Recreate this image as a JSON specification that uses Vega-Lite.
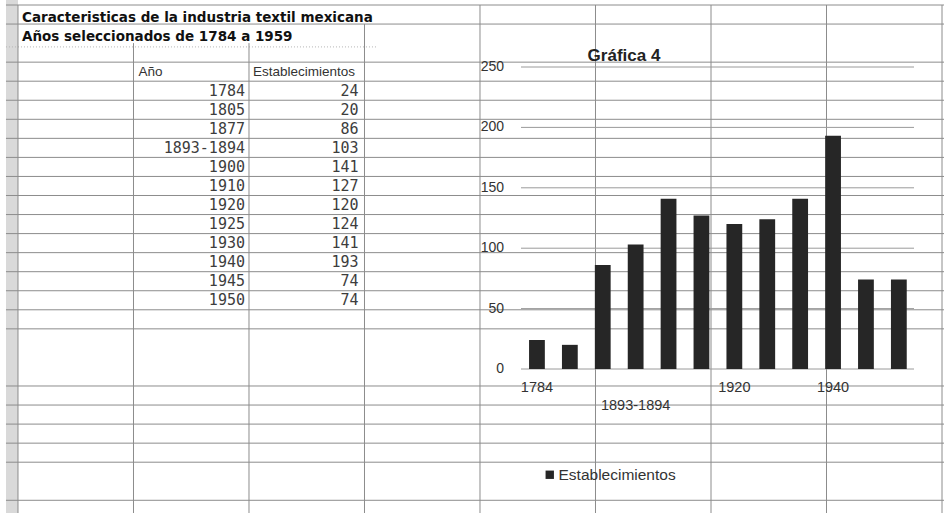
{
  "$schema": "https://vega.github.io/schema/vega-lite/v6.json",
  "width": 944,
  "height": 513,
  "autosize": "none",
  "padding": 0,
  "background": "white",
  "config": {"view": {"stroke": null}},
  "datasets": {
    "industria": [
      {"Año": "1784", "Establecimientos": 24},
      {"Año": "1805", "Establecimientos": 20},
      {"Año": "1877", "Establecimientos": 86},
      {"Año": "1893-1894", "Establecimientos": 103},
      {"Año": "1900", "Establecimientos": 141},
      {"Año": "1910", "Establecimientos": 127},
      {"Año": "1920", "Establecimientos": 120},
      {"Año": "1925", "Establecimientos": 124},
      {"Año": "1930", "Establecimientos": 141},
      {"Año": "1940", "Establecimientos": 193},
      {"Año": "1945", "Establecimientos": 74},
      {"Año": "1950", "Establecimientos": 74}
    ],
    "filas": [
      {"fila": 0}, {"fila": 1}, {"fila": 3}, {"fila": 4}, {"fila": 5}, {"fila": 6},
      {"fila": 7}, {"fila": 8}, {"fila": 9}, {"fila": 10}, {"fila": 11}, {"fila": 12},
      {"fila": 13}, {"fila": 14}, {"fila": 15}, {"fila": 16}, {"fila": 17},
      {"fila": 20}, {"fila": 21}, {"fila": 22}, {"fila": 23}, {"fila": 24}, {"fila": 26}
    ],
    "columnas": [
      {"col": 0, "desde": 0}, {"col": 1, "desde": 2}, {"col": 2, "desde": 2},
      {"col": 3, "desde": 1}, {"col": 4, "desde": 0}, {"col": 5, "desde": 0},
      {"col": 6, "desde": 0}, {"col": 7, "desde": 0}, {"col": 8, "desde": 0}
    ],
    "marcas": [{"v": 0}, {"v": 50}, {"v": 100}, {"v": 150}, {"v": 200}, {"v": 250}]
  },
  "layer": [
    {
      "layer": [
        {
          "data": {"values": [{}]},
          "mark": {"type": "rect", "color": "#d9d9d9"},
          "encoding": {
            "x": {"datum": -0.104, "type": "quantitative", "scale": {"domain": [-0.1558, 8.0173], "nice": false, "zero": false}, "axis": null},
            "x2": {"datum": 0},
            "y": {"datum": -0.2625, "type": "quantitative", "scale": {"domain": [-0.2625, 26.667], "range": [0, 513], "nice": false, "zero": false}, "axis": null},
            "y2": {"datum": 26.667}
          }
        },
        {
          "data": {"name": "filas"},
          "mark": {"type": "rule", "color": "#8c8c8c", "strokeWidth": 1},
          "encoding": {
            "x": {"datum": -0.104, "type": "quantitative", "scale": {"domain": [-0.1558, 8.0173], "nice": false, "zero": false}, "axis": null},
            "x2": {"datum": 8.0173},
            "y": {"field": "fila", "type": "quantitative", "scale": {"domain": [-0.2625, 26.667], "range": [0, 513], "nice": false, "zero": false}, "axis": null}
          }
        },
        {
          "data": {"values": [{}]},
          "mark": {"type": "rule", "color": "#b5b5b5", "strokeWidth": 1, "strokeDash": [1, 2]},
          "encoding": {
            "x": {"datum": -0.104, "type": "quantitative", "scale": {"domain": [-0.1558, 8.0173], "nice": false, "zero": false}, "axis": null},
            "x2": {"datum": 3.1},
            "y": {"datum": 2.2, "type": "quantitative", "scale": {"domain": [-0.2625, 26.667], "range": [0, 513], "nice": false, "zero": false}, "axis": null}
          }
        },
        {
          "data": {"name": "columnas"},
          "mark": {"type": "rule", "color": "#8c8c8c", "strokeWidth": 1},
          "encoding": {
            "x": {"field": "col", "type": "quantitative", "scale": {"domain": [-0.1558, 8.0173], "nice": false, "zero": false}, "axis": null},
            "y": {"field": "desde", "type": "quantitative", "scale": {"domain": [-0.2625, 26.667], "range": [0, 513], "nice": false, "zero": false}, "axis": null},
            "y2": {"datum": 26.667}
          }
        },
        {
          "data": {"values": [{}]},
          "mark": {"type": "text", "align": "left", "baseline": "middle", "dx": 4, "dy": 3, "font": "DejaVu Sans", "fontWeight": "bold", "fontSize": 13.5, "color": "#111"},
          "encoding": {
            "x": {"datum": 0, "type": "quantitative", "scale": {"domain": [-0.1558, 8.0173], "nice": false, "zero": false}, "axis": null},
            "y": {"datum": 0.5, "type": "quantitative", "scale": {"domain": [-0.2625, 26.667], "range": [0, 513], "nice": false, "zero": false}, "axis": null},
            "text": {"value": "Caracteristicas de la industria textil mexicana"}
          }
        },
        {
          "data": {"values": [{}]},
          "mark": {"type": "text", "align": "left", "baseline": "middle", "dx": 4, "dy": 3, "font": "DejaVu Sans", "fontWeight": "bold", "fontSize": 13.5, "color": "#111"},
          "encoding": {
            "x": {"datum": 0, "type": "quantitative", "scale": {"domain": [-0.1558, 8.0173], "nice": false, "zero": false}, "axis": null},
            "y": {"datum": 1.5, "type": "quantitative", "scale": {"domain": [-0.2625, 26.667], "range": [0, 513], "nice": false, "zero": false}, "axis": null},
            "text": {"value": "Años seleccionados de 1784 a 1959"}
          }
        },
        {
          "data": {"values": [{}]},
          "mark": {"type": "text", "align": "left", "baseline": "middle", "dx": 5, "font": "Liberation Sans", "fontSize": 13.5, "color": "#333"},
          "encoding": {
            "x": {"datum": 1, "type": "quantitative", "scale": {"domain": [-0.1558, 8.0173], "nice": false, "zero": false}, "axis": null},
            "y": {"datum": 3.5, "type": "quantitative", "scale": {"domain": [-0.2625, 26.667], "range": [0, 513], "nice": false, "zero": false}, "axis": null},
            "text": {"value": "Año"}
          }
        },
        {
          "data": {"values": [{}]},
          "mark": {"type": "text", "align": "left", "baseline": "middle", "dx": 4, "font": "Liberation Sans", "fontSize": 13.5, "color": "#333"},
          "encoding": {
            "x": {"datum": 2, "type": "quantitative", "scale": {"domain": [-0.1558, 8.0173], "nice": false, "zero": false}, "axis": null},
            "y": {"datum": 3.5, "type": "quantitative", "scale": {"domain": [-0.2625, 26.667], "range": [0, 513], "nice": false, "zero": false}, "axis": null},
            "text": {"value": "Establecimientos"}
          }
        }
      ]
    },
    {
      "data": {"name": "industria"},
      "layer": [
        {
          "mark": {"type": "text", "align": "right", "baseline": "middle", "dx": -4, "font": "DejaVu Sans Mono", "fontSize": 15, "color": "#3d3d3d"},
          "encoding": {
            "x": {"datum": 2, "type": "quantitative", "scale": {"domain": [-0.1558, 8.0173], "nice": false, "zero": false}, "axis": null},
            "y": {"field": "Año", "type": "ordinal", "sort": null, "scale": {"type": "band", "range": [81.2, 309.8], "paddingInner": 0, "paddingOuter": 0}, "axis": null},
            "text": {"field": "Año"}
          }
        },
        {
          "mark": {"type": "text", "align": "right", "baseline": "middle", "dx": -6, "font": "DejaVu Sans Mono", "fontSize": 15, "color": "#3d3d3d"},
          "encoding": {
            "x": {"datum": 3, "type": "quantitative", "scale": {"domain": [-0.1558, 8.0173], "nice": false, "zero": false}, "axis": null},
            "y": {"field": "Año", "type": "ordinal", "sort": null, "scale": {"type": "band", "range": [81.2, 309.8], "paddingInner": 0, "paddingOuter": 0}, "axis": null},
            "text": {"field": "Establecimientos", "type": "quantitative"}
          }
        }
      ]
    },
    {
      "data": {"name": "marcas"},
      "layer": [
        {
          "mark": {"type": "rule", "color": "#9a9a9a", "strokeWidth": 1},
          "encoding": {
            "x": {"datum": 0, "type": "quantitative", "scale": {"domain": [0, 1], "range": [521, 914], "nice": false, "zero": false}, "axis": null},
            "x2": {"datum": 1},
            "y": {"field": "v", "type": "quantitative", "scale": {"domain": [0, 250], "range": [369, 67], "nice": false}, "axis": null}
          }
        },
        {
          "mark": {"type": "text", "align": "right", "baseline": "middle", "dx": -17, "font": "Liberation Sans", "fontSize": 14, "color": "#333"},
          "encoding": {
            "x": {"datum": 0, "type": "quantitative", "scale": {"domain": [0, 1], "range": [521, 914], "nice": false, "zero": false}, "axis": null},
            "y": {"field": "v", "type": "quantitative", "scale": {"domain": [0, 250], "range": [369, 67], "nice": false}, "axis": null},
            "text": {"field": "v", "type": "quantitative"}
          }
        },
        {
          "data": {"values": [{}]},
          "mark": {"type": "text", "align": "center", "baseline": "middle", "dy": -11, "font": "Liberation Sans", "fontWeight": "bold", "fontSize": 17, "color": "#222"},
          "encoding": {
            "x": {"datum": 0.262, "type": "quantitative", "scale": {"domain": [0, 1], "range": [521, 914], "nice": false, "zero": false}, "axis": null},
            "y": {"datum": 250, "type": "quantitative", "scale": {"domain": [0, 250], "range": [369, 67], "nice": false}, "axis": null},
            "text": {"value": "Gráfica 4"}
          }
        }
      ]
    },
    {
      "data": {"name": "industria"},
      "layer": [
        {
          "mark": {"type": "bar"},
          "encoding": {
            "x": {"field": "Año", "type": "nominal", "sort": null, "scale": {"range": [520.5, 915.3], "paddingInner": 0.52, "paddingOuter": 0.26}, "axis": null},
            "y": {"field": "Establecimientos", "type": "quantitative", "scale": {"domain": [0, 250], "range": [369, 67], "nice": false}, "axis": null},
            "color": {
              "datum": "Establecimientos",
              "type": "nominal",
              "scale": {"range": ["#262626"]},
              "legend": {
                "title": null,
                "orient": "none",
                "legendX": 542,
                "legendY": 467,
                "padding": 0,
                "symbolType": "square",
                "symbolSize": 70,
                "symbolStrokeWidth": 0,
                "labelFont": "Liberation Sans",
                "labelFontSize": 15.5,
                "labelColor": "#333",
                "labelOffset": 1
              }
            }
          }
        },
        {
          "mark": {"type": "text", "align": "center", "baseline": "middle", "dy": 19, "font": "Liberation Sans", "fontSize": 14.5, "color": "#333"},
          "encoding": {
            "x": {"field": "Año", "type": "nominal", "sort": null, "scale": {"range": [520.5, 915.3], "paddingInner": 0.52, "paddingOuter": 0.26}, "axis": null},
            "y": {"datum": 0, "type": "quantitative", "scale": {"domain": [0, 250], "range": [369, 67], "nice": false}, "axis": null},
            "text": {
              "condition": {"test": "datum['Año'] === '1784' || datum['Año'] === '1920' || datum['Año'] === '1940'", "field": "Año"},
              "value": ""
            }
          }
        },
        {
          "mark": {"type": "text", "align": "center", "baseline": "middle", "dy": 37, "font": "Liberation Sans", "fontSize": 14.5, "color": "#333"},
          "encoding": {
            "x": {"field": "Año", "type": "nominal", "sort": null, "scale": {"range": [520.5, 915.3], "paddingInner": 0.52, "paddingOuter": 0.26}, "axis": null},
            "y": {"datum": 0, "type": "quantitative", "scale": {"domain": [0, 250], "range": [369, 67], "nice": false}, "axis": null},
            "text": {
              "condition": {"test": "datum['Año'] === '1893-1894'", "field": "Año"},
              "value": ""
            }
          }
        }
      ]
    }
  ],
  "resolve": {"scale": {"x": "independent", "y": "independent", "color": "independent"}}
}
